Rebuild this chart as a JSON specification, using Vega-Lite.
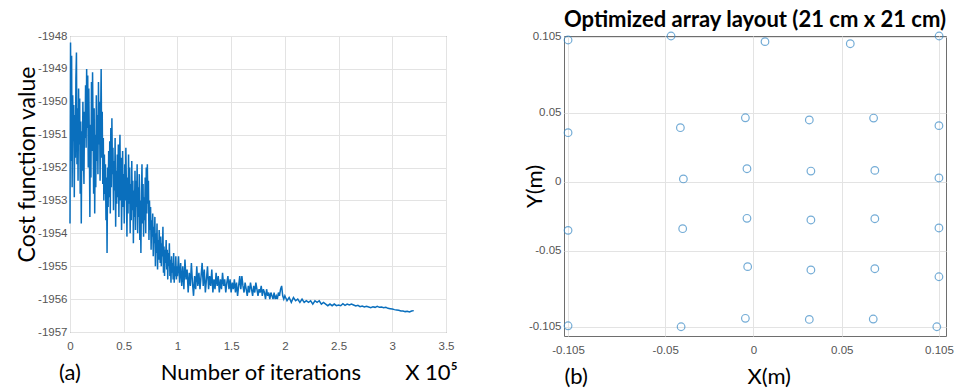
{
"$schema": "https://vega.github.io/schema/vega-lite/v6.json",
"background": "white",
"padding": {"left": 16, "top": 8, "right": 10, "bottom": 2},
"bounds": "flush",
"spacing": 118,
"config": {
  "view": {"stroke": "#6e6e6e", "strokeWidth": 1},
  "axis": {"labelFont": "Liberation Sans", "labelFontSize": 11.5, "labelColor": "#555555", "grid": true, "gridColor": "#e3e3e3", "domain": false, "ticks": false, "titleFont": "Lato", "titleFontWeight": "normal", "titleFontSize": 22, "titleColor": "#000000", "labelExpr": "toString(datum.value)"}
},
"hconcat": [
{
  "width": 376, "height": 296,
  "data": {"values": [
{"n":0.000,"c":-1953.7},{"n":0.005,"c":-1948.2},{"n":0.010,"c":-1951.8},{"n":0.015,"c":-1948.6},{"n":0.020,"c":-1952.6},{"n":0.025,"c":-1949.8},{"n":0.030,"c":-1951.2},{"n":0.035,"c":-1950.1},{"n":0.040,"c":-1952.9},{"n":0.045,"c":-1950.4},{"n":0.050,"c":-1951.7},{"n":0.055,"c":-1949.3},{"n":0.060,"c":-1948.5},{"n":0.065,"c":-1951.9},{"n":0.070,"c":-1950.2},{"n":0.075,"c":-1952.4},{"n":0.080,"c":-1949.6},{"n":0.085,"c":-1951.3},{"n":0.090,"c":-1949.9},{"n":0.095,"c":-1952.8},{"n":0.100,"c":-1950.6},
{"n":0.105,"c":-1953.7},{"n":0.110,"c":-1950.9},{"n":0.115,"c":-1952.1},{"n":0.120,"c":-1950.0},{"n":0.125,"c":-1951.6},{"n":0.130,"c":-1952.5},{"n":0.135,"c":-1950.3},{"n":0.140,"c":-1951.1},{"n":0.145,"c":-1949.5},{"n":0.150,"c":-1951.4},{"n":0.155,"c":-1949.0},{"n":0.160,"c":-1950.8},{"n":0.165,"c":-1949.2},{"n":0.170,"c":-1952.0},{"n":0.175,"c":-1949.6},{"n":0.180,"c":-1951.2},{"n":0.185,"c":-1953.5},{"n":0.190,"c":-1950.7},{"n":0.195,"c":-1952.3},{"n":0.200,"c":-1949.4},
{"n":0.205,"c":-1951.5},{"n":0.210,"c":-1949.1},{"n":0.215,"c":-1950.9},{"n":0.220,"c":-1952.8},{"n":0.225,"c":-1950.2},{"n":0.230,"c":-1953.4},{"n":0.235,"c":-1951.0},{"n":0.240,"c":-1952.6},{"n":0.245,"c":-1949.8},{"n":0.250,"c":-1951.8},{"n":0.255,"c":-1950.4},{"n":0.260,"c":-1952.2},{"n":0.265,"c":-1949.4},{"n":0.270,"c":-1951.3},{"n":0.275,"c":-1950.0},{"n":0.280,"c":-1952.4},{"n":0.285,"c":-1950.6},{"n":0.290,"c":-1949.0},{"n":0.295,"c":-1951.7},{"n":0.300,"c":-1950.3},
{"n":0.305,"c":-1952.5},{"n":0.310,"c":-1951.1},{"n":0.315,"c":-1953.0},{"n":0.320,"c":-1951.6},{"n":0.325,"c":-1952.8},{"n":0.330,"c":-1951.9},{"n":0.335,"c":-1953.6},{"n":0.340,"c":-1952.3},{"n":0.345,"c":-1954.6},{"n":0.350,"c":-1952.0},{"n":0.355,"c":-1953.2},{"n":0.360,"c":-1951.5},{"n":0.365,"c":-1952.9},{"n":0.370,"c":-1951.2},{"n":0.375,"c":-1953.4},{"n":0.380,"c":-1950.8},{"n":0.385,"c":-1952.6},{"n":0.390,"c":-1950.5},{"n":0.395,"c":-1952.2},{"n":0.400,"c":-1951.4},
{"n":0.405,"c":-1953.3},{"n":0.410,"c":-1951.8},{"n":0.415,"c":-1952.7},{"n":0.420,"c":-1951.1},{"n":0.425,"c":-1953.8},{"n":0.430,"c":-1952.1},{"n":0.435,"c":-1953.1},{"n":0.440,"c":-1951.6},{"n":0.445,"c":-1952.9},{"n":0.450,"c":-1951.3},{"n":0.455,"c":-1953.5},{"n":0.460,"c":-1952.0},{"n":0.465,"c":-1951.0},{"n":0.470,"c":-1953.0},{"n":0.475,"c":-1951.7},{"n":0.480,"c":-1953.9},{"n":0.485,"c":-1952.4},{"n":0.490,"c":-1951.5},{"n":0.495,"c":-1953.2},{"n":0.500,"c":-1952.2},
{"n":0.505,"c":-1953.7},{"n":0.510,"c":-1951.9},{"n":0.515,"c":-1953.0},{"n":0.520,"c":-1951.4},{"n":0.525,"c":-1952.6},{"n":0.530,"c":-1954.1},{"n":0.535,"c":-1952.3},{"n":0.540,"c":-1953.4},{"n":0.545,"c":-1951.6},{"n":0.550,"c":-1953.1},{"n":0.555,"c":-1952.0},{"n":0.560,"c":-1954.0},{"n":0.565,"c":-1952.5},{"n":0.570,"c":-1953.6},{"n":0.575,"c":-1951.8},{"n":0.580,"c":-1953.3},{"n":0.585,"c":-1952.4},{"n":0.590,"c":-1954.3},{"n":0.595,"c":-1952.7},{"n":0.600,"c":-1953.5},
{"n":0.605,"c":-1952.1},{"n":0.610,"c":-1953.9},{"n":0.615,"c":-1952.4},{"n":0.620,"c":-1953.2},{"n":0.625,"c":-1951.9},{"n":0.630,"c":-1954.0},{"n":0.635,"c":-1952.6},{"n":0.640,"c":-1953.5},{"n":0.645,"c":-1952.2},{"n":0.650,"c":-1954.2},{"n":0.655,"c":-1953.0},{"n":0.660,"c":-1954.6},{"n":0.665,"c":-1952.8},{"n":0.670,"c":-1951.9},{"n":0.675,"c":-1953.7},{"n":0.680,"c":-1952.5},{"n":0.685,"c":-1954.1},{"n":0.690,"c":-1952.9},{"n":0.695,"c":-1953.6},{"n":0.700,"c":-1952.3},
{"n":0.705,"c":-1954.0},{"n":0.710,"c":-1952.0},{"n":0.715,"c":-1953.4},{"n":0.720,"c":-1951.9},{"n":0.725,"c":-1953.1},{"n":0.730,"c":-1952.4},{"n":0.735,"c":-1954.2},{"n":0.740,"c":-1953.0},{"n":0.745,"c":-1953.9},{"n":0.750,"c":-1953.2},{"n":0.755,"c":-1954.5},{"n":0.760,"c":-1953.6},{"n":0.765,"c":-1954.1},{"n":0.770,"c":-1953.4},{"n":0.775,"c":-1954.7},{"n":0.780,"c":-1953.8},{"n":0.785,"c":-1954.3},{"n":0.790,"c":-1953.5},{"n":0.795,"c":-1955.0},{"n":0.800,"c":-1954.0},
{"n":0.805,"c":-1954.6},{"n":0.810,"c":-1953.7},{"n":0.815,"c":-1955.1},{"n":0.820,"c":-1954.2},{"n":0.825,"c":-1954.8},{"n":0.830,"c":-1953.9},{"n":0.835,"c":-1954.5},{"n":0.840,"c":-1954.9},{"n":0.845,"c":-1954.1},{"n":0.850,"c":-1955.0},{"n":0.855,"c":-1954.3},{"n":0.860,"c":-1954.7},{"n":0.865,"c":-1953.8},{"n":0.870,"c":-1955.2},{"n":0.875,"c":-1954.4},{"n":0.880,"c":-1955.3},{"n":0.885,"c":-1954.5},{"n":0.890,"c":-1954.9},{"n":0.895,"c":-1954.2},{"n":0.900,"c":-1955.1},
{"n":0.905,"c":-1954.5},{"n":0.910,"c":-1955.4},{"n":0.915,"c":-1954.6},{"n":0.920,"c":-1955.0},{"n":0.925,"c":-1954.3},{"n":0.930,"c":-1955.3},{"n":0.935,"c":-1954.8},{"n":0.940,"c":-1955.5},{"n":0.945,"c":-1954.7},{"n":0.950,"c":-1955.2},{"n":0.955,"c":-1954.9},{"n":0.960,"c":-1955.4},{"n":0.965,"c":-1954.6},{"n":0.970,"c":-1955.5},{"n":0.975,"c":-1955.0},{"n":0.980,"c":-1955.3},{"n":0.985,"c":-1954.7},{"n":0.990,"c":-1955.4},{"n":0.995,"c":-1955.0},{"n":1.000,"c":-1955.3},
{"n":1.01,"c":-1954.7},{"n":1.02,"c":-1955.5},{"n":1.03,"c":-1954.9},{"n":1.04,"c":-1955.6},{"n":1.05,"c":-1955.0},{"n":1.06,"c":-1955.7},{"n":1.07,"c":-1954.8},{"n":1.08,"c":-1955.4},{"n":1.09,"c":-1955.1},{"n":1.10,"c":-1955.8},{"n":1.11,"c":-1955.2},{"n":1.12,"c":-1955.6},{"n":1.13,"c":-1954.9},{"n":1.14,"c":-1955.5},{"n":1.15,"c":-1955.9},{"n":1.16,"c":-1955.3},{"n":1.17,"c":-1955.7},{"n":1.18,"c":-1955.0},{"n":1.19,"c":-1955.6},{"n":1.20,"c":-1955.2},
{"n":1.21,"c":-1955.7},{"n":1.22,"c":-1955.3},{"n":1.23,"c":-1954.9},{"n":1.24,"c":-1955.6},{"n":1.25,"c":-1955.1},{"n":1.26,"c":-1955.8},{"n":1.27,"c":-1955.4},{"n":1.28,"c":-1955.0},{"n":1.29,"c":-1955.7},{"n":1.30,"c":-1955.3},{"n":1.31,"c":-1955.6},{"n":1.32,"c":-1955.1},{"n":1.33,"c":-1955.8},{"n":1.34,"c":-1955.4},{"n":1.35,"c":-1955.7},{"n":1.36,"c":-1955.2},{"n":1.37,"c":-1955.6},{"n":1.38,"c":-1955.3},{"n":1.39,"c":-1955.8},{"n":1.40,"c":-1955.4},
{"n":1.41,"c":-1955.7},{"n":1.42,"c":-1955.2},{"n":1.43,"c":-1955.6},{"n":1.44,"c":-1955.4},{"n":1.45,"c":-1955.8},{"n":1.46,"c":-1955.5},{"n":1.47,"c":-1955.3},{"n":1.48,"c":-1955.7},{"n":1.49,"c":-1955.4},{"n":1.50,"c":-1955.8},
{"n":1.51,"c":-1955.5},{"n":1.52,"c":-1955.7},{"n":1.53,"c":-1955.4},{"n":1.54,"c":-1955.8},{"n":1.55,"c":-1955.5},{"n":1.56,"c":-1955.9},{"n":1.57,"c":-1955.6},{"n":1.58,"c":-1955.3},{"n":1.59,"c":-1955.7},{"n":1.60,"c":-1955.3},{"n":1.61,"c":-1955.6},{"n":1.62,"c":-1955.8},{"n":1.63,"c":-1955.5},{"n":1.64,"c":-1955.7},{"n":1.65,"c":-1955.9},{"n":1.66,"c":-1955.6},{"n":1.67,"c":-1955.8},{"n":1.68,"c":-1955.5},{"n":1.69,"c":-1955.7},{"n":1.70,"c":-1955.9},
{"n":1.71,"c":-1955.6},{"n":1.72,"c":-1955.8},{"n":1.73,"c":-1955.5},{"n":1.74,"c":-1955.7},{"n":1.75,"c":-1955.9},{"n":1.76,"c":-1955.7},{"n":1.77,"c":-1955.8},{"n":1.78,"c":-1955.6},{"n":1.79,"c":-1955.9},{"n":1.80,"c":-1955.7},{"n":1.81,"c":-1955.8},{"n":1.82,"c":-1956.0},{"n":1.83,"c":-1955.7},{"n":1.84,"c":-1955.9},{"n":1.85,"c":-1955.8},{"n":1.86,"c":-1956.0},{"n":1.87,"c":-1955.8},{"n":1.88,"c":-1955.9},{"n":1.89,"c":-1956.0},{"n":1.90,"c":-1955.8},
{"n":1.91,"c":-1956.0},{"n":1.92,"c":-1955.9},{"n":1.93,"c":-1956.0},{"n":1.94,"c":-1955.8},{"n":1.95,"c":-1955.9},{"n":1.96,"c":-1955.7},{"n":1.97,"c":-1955.6},{"n":1.98,"c":-1955.9},{"n":1.99,"c":-1956.0},{"n":2.00,"c":-1955.9},
{"n":2.02,"c":-1956.05},{"n":2.04,"c":-1955.95},{"n":2.06,"c":-1956.1},{"n":2.08,"c":-1955.95},{"n":2.10,"c":-1956.05},{"n":2.12,"c":-1956.0},{"n":2.14,"c":-1956.1},{"n":2.16,"c":-1956.0},{"n":2.18,"c":-1956.1},{"n":2.20,"c":-1956.05},{"n":2.22,"c":-1956.1},{"n":2.24,"c":-1956.05},{"n":2.26,"c":-1956.15},{"n":2.28,"c":-1956.05},{"n":2.30,"c":-1956.1},{"n":2.32,"c":-1956.05},{"n":2.34,"c":-1956.15},{"n":2.36,"c":-1956.1},{"n":2.38,"c":-1956.15},{"n":2.40,"c":-1956.2},
{"n":2.42,"c":-1956.15},{"n":2.44,"c":-1956.2},{"n":2.46,"c":-1956.15},{"n":2.48,"c":-1956.2},{"n":2.50,"c":-1956.18},{"n":2.52,"c":-1956.2},{"n":2.54,"c":-1956.14},{"n":2.56,"c":-1956.19},{"n":2.58,"c":-1956.15},{"n":2.60,"c":-1956.18},{"n":2.62,"c":-1956.15},{"n":2.64,"c":-1956.18},{"n":2.66,"c":-1956.21},{"n":2.68,"c":-1956.19},{"n":2.70,"c":-1956.23},{"n":2.72,"c":-1956.21},{"n":2.74,"c":-1956.24},{"n":2.76,"c":-1956.22},{"n":2.78,"c":-1956.24},{"n":2.80,"c":-1956.26},
{"n":2.82,"c":-1956.23},{"n":2.84,"c":-1956.25},{"n":2.86,"c":-1956.22},{"n":2.88,"c":-1956.25},{"n":2.90,"c":-1956.24},{"n":2.92,"c":-1956.26},{"n":2.94,"c":-1956.25},{"n":2.96,"c":-1956.28},{"n":2.98,"c":-1956.29},{"n":3.00,"c":-1956.3},{"n":3.02,"c":-1956.32},{"n":3.04,"c":-1956.33},{"n":3.06,"c":-1956.34},{"n":3.08,"c":-1956.36},{"n":3.10,"c":-1956.36},{"n":3.12,"c":-1956.38},{"n":3.14,"c":-1956.37},{"n":3.16,"c":-1956.39},{"n":3.18,"c":-1956.36},{"n":3.20,"c":-1956.35}
  ]},
  "mark": {"type": "line", "color": "#0a6fbd", "strokeWidth": 1.5},
  "encoding": {
    "x": {"field": "n", "type": "quantitative", "scale": {"domain": [0, 3.5], "nice": false},
          "axis": {"values": [0, 0.5, 1, 1.5, 2, 2.5, 3, 3.5], "labelPadding": 8, "labelFlush": false, "titlePadding": 11,
                   "title": "(a)\u2003\u2003\u2003\u2003\u2002\u2009Number of iterations\u2003\u2003\u2002X 10\u2075"}},
    "y": {"field": "c", "type": "quantitative", "scale": {"domain": [-1957, -1948], "nice": false, "zero": false},
          "axis": {"values": [-1957, -1956, -1955, -1954, -1953, -1952, -1951, -1950, -1949, -1948], "labelPadding": 3, "labelFlush": false, "titlePadding": -2, "titleFontSize": 23, "titleY": 128, "title": "Cost function value"}}
  }
},
{
  "width": 382, "height": 300,
  "title": {"text": "Optimized array layout (21 cm x 21 cm)", "font": "Lato", "fontSize": 22, "fontWeight": "bold", "color": "#000000", "offset": -2, "anchor": "middle"},
  "data": {"values": [
{"x":-0.105,"y":0.1026},{"x":-0.0467,"y":0.1055},{"x":0.0065,"y":0.1014},{"x":0.0548,"y":0.0999},{"x":0.1051,"y":0.1055},
{"x":-0.105,"y":0.0355},{"x":-0.0414,"y":0.0391},{"x":-0.0046,"y":0.0463},{"x":0.0316,"y":0.0447},{"x":0.068,"y":0.0461},{"x":0.105,"y":0.0406},
{"x":-0.0397,"y":0.002},{"x":-0.0037,"y":0.0094},{"x":0.0325,"y":0.0077},{"x":0.0687,"y":0.0082},{"x":0.105,"y":0.0027},
{"x":-0.105,"y":-0.0352},{"x":-0.0401,"y":-0.034},{"x":-0.0037,"y":-0.0265},{"x":0.0325,"y":-0.0277},{"x":0.0687,"y":-0.0268},{"x":0.105,"y":-0.0335},
{"x":-0.0033,"y":-0.0615},{"x":0.0325,"y":-0.0639},{"x":0.0687,"y":-0.063},{"x":0.105,"y":-0.0688},
{"x":-0.105,"y":-0.1043},{"x":-0.041,"y":-0.105},{"x":-0.0046,"y":-0.0989},{"x":0.0316,"y":-0.0997},{"x":0.0678,"y":-0.0994},{"x":0.1038,"y":-0.105}
  ]},
  "mark": {"type": "point", "shape": "circle", "filled": false, "size": 58, "stroke": "#3a8ac6", "strokeWidth": 1.2},
  "encoding": {
    "x": {"field": "x", "type": "quantitative", "scale": {"domain": [-0.1073, 0.109], "nice": false, "zero": false},
          "axis": {"values": [-0.105, -0.05, 0, 0.05, 0.105], "labelPadding": 8, "labelFlush": false, "titlePadding": 11, "titleAnchor": "start", "titleAlign": "left",
                   "title": "(b)\u2003\u2003\u2003\u2003\u2003\u2003\u2003\u2003\u2003\u2002X(m)"}},
    "y": {"field": "y", "type": "quantitative", "scale": {"domain": [-0.1117, 0.1055], "nice": false, "zero": false},
          "axis": {"values": [-0.105, -0.05, 0, 0.05, 0.105], "labelPadding": 3, "labelFlush": false, "titlePadding": -18, "title": "Y(m)"}}
  }
}
]
}
